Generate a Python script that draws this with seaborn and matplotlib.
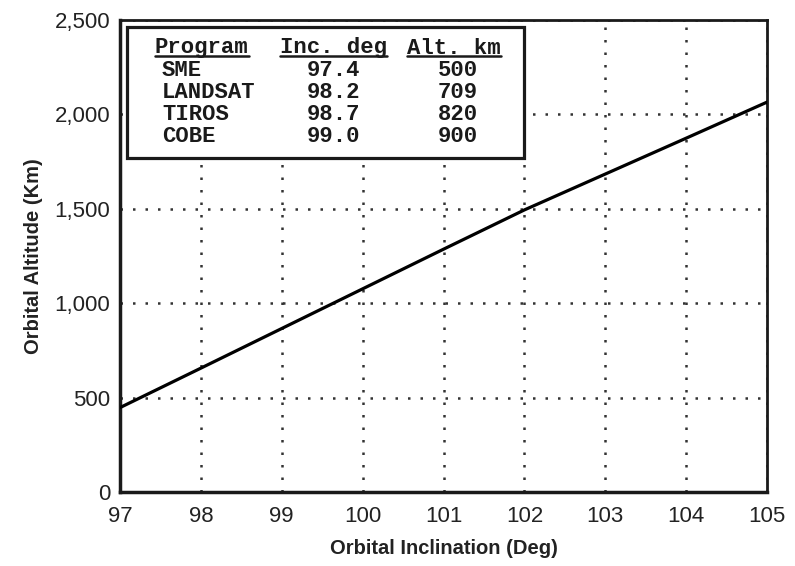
import matplotlib
matplotlib.use("Agg")
import matplotlib.pyplot as plt
import seaborn as sns
from matplotlib.patches import Rectangle
from matplotlib.lines import Line2D

# Sun-synchronous orbit: altitude vs inclination
inclination = [97, 98, 99, 100, 101, 102, 103, 104, 105]
altitude = [447, 656, 866, 1076, 1286, 1494, 1684, 1874, 2065]

x_ticks = [97, 98, 99, 100, 101, 102, 103, 104, 105]
y_ticks = [0, 500, 1000, 1500, 2000, 2500]
y_tick_labels = ["0", "500", "1,000", "1,500", "2,000", "2,500"]

# Inset table
programs = ["SME", "LANDSAT", "TIROS", "COBE"]
inc_deg = ["97.4", "98.2", "98.7", "99.0"]
alt_km = ["500", "709", "820", "900"]
headers = ["Program", "Inc. deg", "Alt. km"]

sns.set_style("white")
plt.rcParams["font.family"] = ["Liberation Sans", "DejaVu Sans"]

fig = plt.figure(figsize=(7.95, 5.66), dpi=100)
ax = fig.add_axes([120 / 795, 1 - 492 / 566, 647 / 795, 472 / 566])

sns.lineplot(x=inclination, y=altitude, color="black", linewidth=2.3, ax=ax, zorder=3)

ax.set_xlim(97, 105)
ax.set_ylim(0, 2500)
ax.set_xticks(x_ticks)
ax.set_yticks(y_ticks)
ax.set_yticklabels(y_tick_labels)
ax.tick_params(axis="both", length=0, labelsize=16, colors="#222222")
ax.tick_params(axis="x", pad=10)
ax.tick_params(axis="y", pad=7)

ax.grid(True, linestyle=(0, (1, 4)), color="#333333", linewidth=1.8)
for name, sp in ax.spines.items():
    sp.set_color("#1a1a1a")
    sp.set_linewidth(2.5 if name in ("left", "bottom") else 2.0)

ax.set_xlabel("Orbital Inclination (Deg)", fontsize=14.5, fontweight="bold",
              color="#222222", labelpad=9)
ax.set_ylabel("Orbital Altitude (Km)", fontsize=14.5, fontweight="bold",
              color="#222222", labelpad=8)

# table box
box = Rectangle((7 / 647, 1 - 138 / 472), 397 / 647, 131 / 472, transform=ax.transAxes,
                facecolor="white", edgecolor="#1a1a1a", linewidth=2.3, zorder=4)
ax.add_patch(box)

mono = dict(family="Liberation Mono", fontweight="bold", fontsize=16,
            color="#1a1a1a", zorder=5, transform=ax.transAxes, va="center")
head_y = 1 - 28 / 472
row_y = [1 - 51 / 472, 1 - 73 / 472, 1 - 95 / 472, 1 - 117 / 472]
head_left = 35 / 647
col_left = 42 / 647
col_inc = 213 / 647
col_alt = 338 / 647

head_texts = [
    ax.text(head_left, head_y, headers[0], ha="left", **mono),
    ax.text(col_inc, head_y, headers[1], ha="center", **mono),
    ax.text(col_alt - 4 / 647, head_y, headers[2], ha="center", **mono),
]
for i in range(len(programs)):
    ax.text(col_left, row_y[i], programs[i], ha="left", **mono)
    ax.text(col_inc, row_y[i], inc_deg[i], ha="center", **mono)
    ax.text(col_alt, row_y[i], alt_km[i], ha="center", **mono)

# underline the headers (just under the baseline, through the descenders)
fig.canvas.draw()
renderer = fig.canvas.get_renderer()
for t in head_texts:
    bb = t.get_window_extent(renderer)
    y = bb.y0 + 3
    fig.add_artist(Line2D([bb.x0, bb.x1], [y, y], transform=None,
                          color="#1a1a1a", linewidth=1.8, zorder=6))

fig.savefig("out.png", dpi=100)
